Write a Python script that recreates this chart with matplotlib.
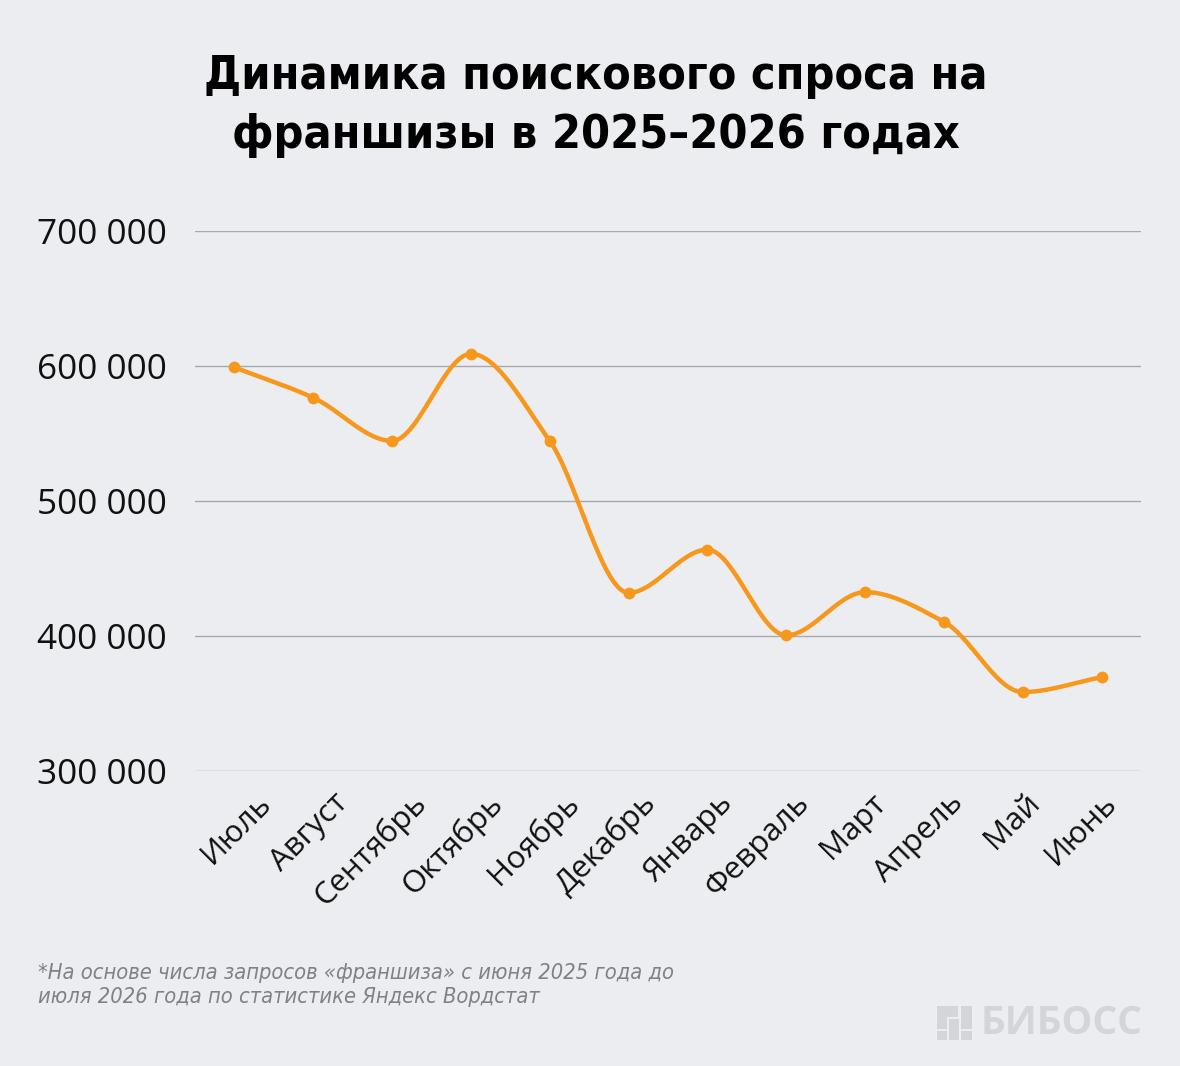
import numpy as np
import matplotlib
matplotlib.use("Agg")
import matplotlib.pyplot as plt
import matplotlib.transforms as mtransforms
from matplotlib.patches import Rectangle

# data
months = ["Июль", "Август", "Сентябрь", "Октябрь", "Ноябрь", "Декабрь",
          "Январь", "Февраль", "Март", "Апрель", "Май", "Июнь"]
queries = [599000, 576500, 544500, 609000, 544500, 432000,
           464000, 400500, 432500, 410500, 358500, 369500]
y_ticks = [300000, 400000, 500000, 600000, 700000]
y_tick_labels = ["300 000", "400 000", "500 000", "600 000", "700 000"]

title = "Динамика поискового спроса на\nфраншизы в 2025–2026 годах"
note = ("*На основе числа запросов «франшиза» с июня 2025 года до\n"
        "июля 2026 года по статистике Яндекс Вордстат")

BG = "#ECEDF1"
ORANGE = "#F7981D"
LOGO = "#D4D5D9"


def monotone_curve(x, y, n=30):
    """Fritsch-Carlson monotone cubic, used only to draw the smooth line."""
    x = np.asarray(x, float)
    y = np.asarray(y, float)
    h = np.diff(x)
    d = np.diff(y) / h
    m = np.zeros_like(y)
    m[0], m[-1] = d[0], d[-1]
    for i in range(1, len(y) - 1):
        if d[i - 1] * d[i] <= 0:
            m[i] = 0.0
        else:
            w1 = 2 * h[i] + h[i - 1]
            w2 = h[i] + 2 * h[i - 1]
            m[i] = (w1 + w2) / (w1 / d[i - 1] + w2 / d[i])
    xs, ys = [], []
    for i in range(len(x) - 1):
        t = np.linspace(0, 1, n, endpoint=(i == len(x) - 2))
        h00 = 2 * t**3 - 3 * t**2 + 1
        h10 = t**3 - 2 * t**2 + t
        h01 = -2 * t**3 + 3 * t**2
        h11 = t**3 - t**2
        xs.append(x[i] + t * h[i])
        ys.append(h00 * y[i] + h10 * h[i] * m[i] + h01 * y[i + 1] + h11 * h[i] * m[i + 1])
    return np.concatenate(xs), np.concatenate(ys)


plt.rcParams["font.family"] = ["Open Sans", "DejaVu Sans"]

fig = plt.figure(figsize=(11.8, 10.66), dpi=100, facecolor=BG)
ax = fig.add_axes([195 / 1180, 1 - 771 / 1066, 946 / 1180, 540 / 1066])
ax.set_facecolor(BG)

xpos = np.arange(len(months))
cx, cy = monotone_curve(xpos, queries)
ax.plot(cx, cy, color=ORANGE, lw=3.2, solid_capstyle="round", zorder=3)
ax.plot(xpos, queries, "o", color=ORANGE, ms=7.5, zorder=4)

ax.set_xlim(-0.5, len(months) - 0.5)
ax.set_ylim(300000, 700000)
ax.set_yticks(y_ticks)
ax.set_yticklabels(y_tick_labels, fontsize=25.3, color="#111111")
ax.grid(axis="y", color="#A8A9AD", lw=1)
ax.set_axisbelow(True)
for s in ax.spines.values():
    s.set_visible(False)
ax.tick_params(axis="y", length=0, pad=20)
ax.tick_params(axis="x", length=0, pad=12)
ax.set_xticks(xpos)
ax.set_xticklabels(months, rotation=45, ha="right", va="top",
                   rotation_mode="anchor", fontsize=22.5, color="#111111")
# labels in the reference sit a little to the right of their ticks,
# drifting left towards the end of the axis
for i, lab in enumerate(ax.get_xticklabels()):
    dx = (22 - 2 * i) / 100
    lab.set_transform(lab.get_transform()
                      + mtransforms.ScaledTranslation(dx, 0, fig.dpi_scale_trans))

fig.text(0.505, 1 - 106 / 1066, title, ha="center", va="center",
         fontsize=33.5, fontweight="bold", fontstretch="condensed",
         linespacing=1.38, family="DejaVu Sans")

fig.text(38 / 1180, 1 - 985 / 1066, note, ha="left", va="center",
         fontsize=15.7, style="italic", fontstretch="condensed",
         color="#808085", linespacing=1.2, family="DejaVu Sans")

# logo mark
for (x0, y0, w, h) in [(937, 1006, 21, 11), (937, 1006, 10, 23),
                       (949, 1019, 10, 21), (961, 1006, 11, 23),
                       (937, 1031, 10, 9), (961, 1031, 11, 9)]:
    fig.patches.append(Rectangle((x0 / 1180, 1 - (y0 + h) / 1066), w / 1180, h / 1066,
                                 transform=fig.transFigure, color=LOGO, lw=0))
fig.text(980 / 1180, 1 - 1023 / 1066, "БИБОСС", ha="left", va="center",
         fontsize=28, fontweight="bold", color=LOGO)

fig.savefig("out.png", dpi=100, facecolor=BG)
